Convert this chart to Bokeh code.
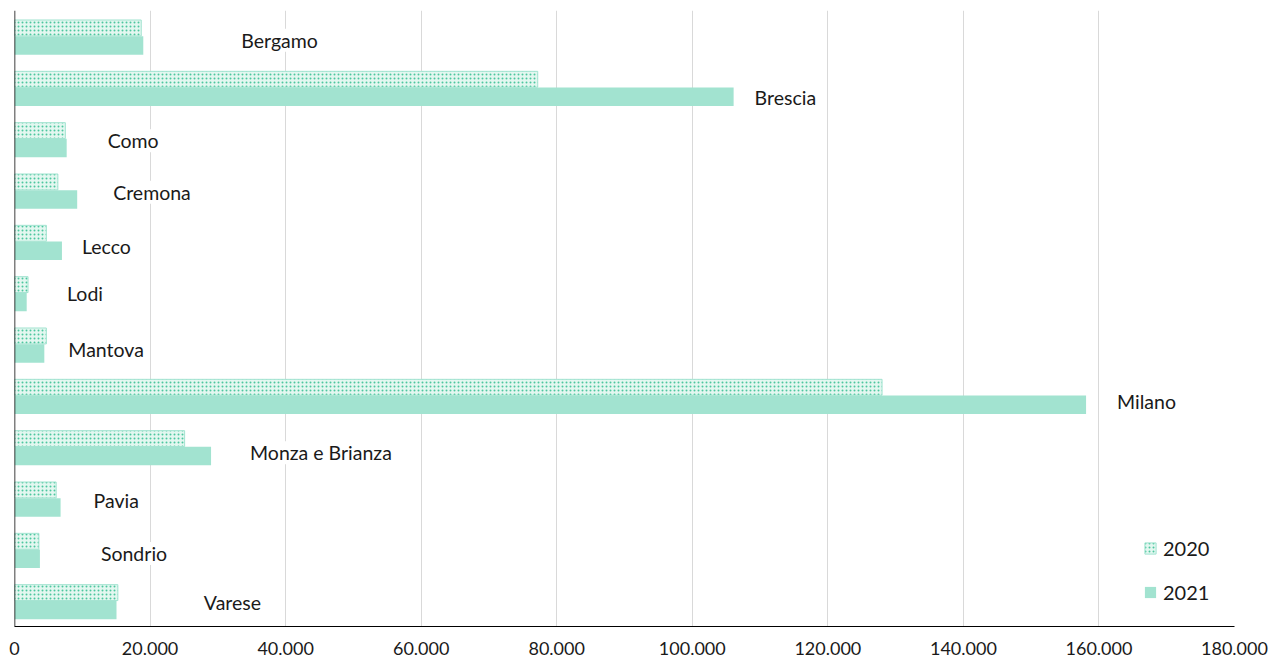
from bokeh.plotting import figure
from bokeh.models import (ColumnDataSource, FactorRange, Range1d, LabelSet, Span,
                          Legend, LegendItem, CustomJSTickFormatter, FixedTicker)
from bokeh.core.properties import value
from bokeh.transform import dodge
from bokeh.embed import file_html
from bokeh.resources import INLINE

# Provinces of Lombardy, listed top to bottom
provinces = ["Bergamo", "Brescia", "Como", "Cremona", "Lecco", "Lodi", "Mantova",
             "Milano", "Monza e Brianza", "Pavia", "Sondrio", "Varese"]
values_2020 = [18700, 77200, 7500, 6400, 4700, 2000, 4700, 128000, 25100, 6150, 3600, 15250]
values_2021 = [19000, 106100, 7700, 9250, 7000, 1800, 4400, 158100, 29000, 6800, 3750, 15050]
x_ticks = [0, 20000, 40000, 60000, 80000, 100000, 120000, 140000, 160000, 180000]

# Hand-placed offsets (px) for the province name labels
label_dx = [98, 21, 41, 36, 20, 39, 22, 31, 39, 33, 61, 86]
label_dy = [-4, -10, -2, -2, -5, -1, -5, -6, -6, -2, -4, -2]

MINT = "#a2e3d0"
DOT = "#4cc79e"
FONT = "Lato"

src = ColumnDataSource(dict(
    prov=provinces, v20=values_2020, v21=values_2021,
    vmax=[max(a, b) for a, b in zip(values_2020, values_2021)],
    dx=label_dx, dy=label_dy,
))

p = figure(width=1271, height=662, output_backend="svg", toolbar_location=None,
           y_range=FactorRange(factors=list(reversed(provinces)), range_padding=0),
           x_range=Range1d(0, 180000),
           min_border_left=14, min_border_right=37, min_border_top=10, min_border_bottom=36)

r20 = p.hbar(y=dodge("prov", 0.16, range=p.y_range), right="v20", height=0.31, left=0,
             source=src, fill_color="#e3f7f0", line_color=MINT, line_width=1,
             hatch_pattern="dot", hatch_color=DOT, hatch_scale=4, hatch_weight=1.2)
r21 = p.hbar(y=dodge("prov", -0.18, range=p.y_range), right="v21", height=0.36, left=0,
             source=src, fill_color=MINT, line_color=None)

labels = LabelSet(x="vmax", y="prov", text="prov", source=src,
                  x_offset="dx", y_offset="dy",
                  text_font=value(FONT), text_font_size=value("19.5px"), text_color="#1a1a1a",
                  text_baseline="middle", text_align="left",
                  background_fill_color="white", background_fill_alpha=1.0)
p.add_layout(labels)

p.add_layout(Span(location=0, dimension="height", line_color="black", line_width=1.5))

p.yaxis.visible = False
p.ygrid.grid_line_color = None
p.xgrid.grid_line_color = "#d9d9d9"
p.xgrid.grid_line_width = 1
p.outline_line_color = None

ax = p.xaxis[0]
ax.ticker = FixedTicker(ticks=x_ticks)
ax.formatter = CustomJSTickFormatter(code="return tick.toLocaleString('en-US').replace(/,/g, '.');")
ax.axis_line_color = "black"
ax.axis_line_width = 1
ax.major_tick_line_color = None
ax.minor_tick_line_color = None
ax.major_label_standoff = 9
ax.major_label_text_font = FONT
ax.major_label_text_font_size = "18px"
ax.major_label_text_color = "#1a1a1a"

legend = Legend(items=[LegendItem(label="2020", renderers=[r20]),
                       LegendItem(label="2021", renderers=[r21])],
                location=(1129, 22), orientation="vertical",
                glyph_width=14, glyph_height=14, label_standoff=6, spacing=20,
                padding=0, margin=0, border_line_color=None,
                background_fill_color="white", background_fill_alpha=1.0,
                label_text_font=FONT, label_text_font_size="20px",
                label_text_color="#1a1a1a")
p.add_layout(legend)

open("out.html", "w").write(file_html(p, INLINE))
